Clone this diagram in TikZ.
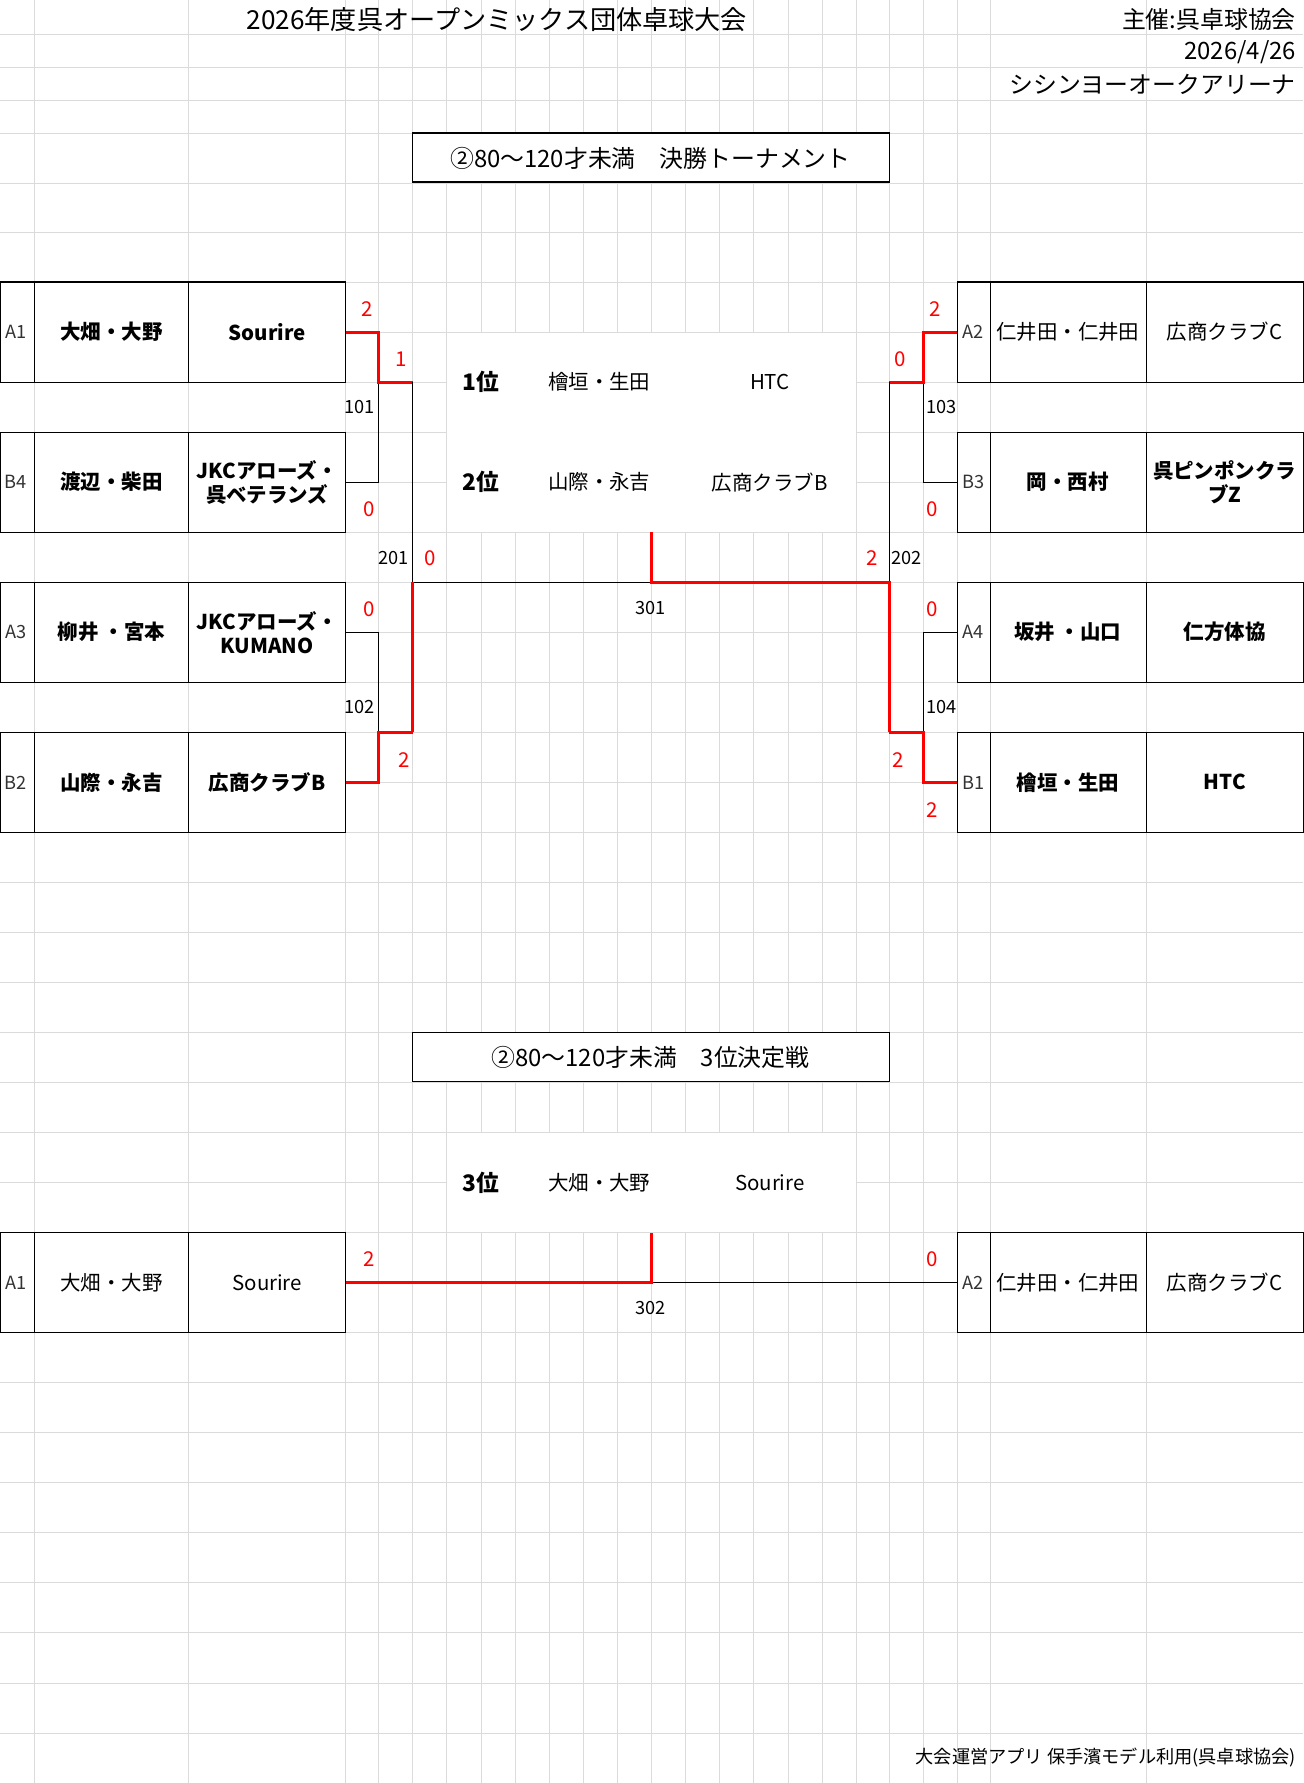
\documentclass[tikz,border=0pt]{standalone}
\usepackage{fontspec}
\setmainfont{Noto Sans CJK JP}
\begin{document}
\begin{tikzpicture}[x=0.5pt,y=-0.5pt,
 grid/.style={draw=black!14,line width=0.4pt},
 box/.style={draw=black,line width=0.5pt},
 nm/.style={font=\fontsize{9}{10.5}\selectfont\bfseries,align=center,inner sep=0pt},
 nn/.style={font=\fontsize{9}{10.5}\selectfont,align=center,inner sep=0pt},
 lb/.style={font=\fontsize{8}{9}\selectfont,text=black!80,inner sep=0pt},
 sc/.style={font=\fontsize{9}{10}\selectfont,text=red,inner sep=0pt},
 mn/.style={font=\fontsize{8}{9}\selectfont,inner sep=0pt},
 win/.style={draw=red,line width=1.3pt},
 los/.style={draw=black,line width=0.5pt}]
\useasboundingbox (0,0) rectangle (1146,1568);
\fill[white] (0,0) rectangle (1146,1568);
% grid
\foreach \x in {30,166,304,333,363,393,423,453,483,513,543,573,603,633,663,693,723,753,782,812,842,871,1008}
  \draw[grid] (\x,0)--(\x,1568);
\foreach \y in {30,59,88,117,161,204,248,292,336,380,424,468,512,556,600,644,688,732,776,820,864,908,952,996,1040,1084,1128,1172,1216,1260,1304,1348,1392,1436,1480,1524}
  \draw[grid] (0,\y)--(1146,\y);
% header
\node[font=\fontsize{11.5}{13}\selectfont,inner sep=0pt] (title) at (437,17) {2026年度呉オープンミックス団体卓球大会};
\node[font=\fontsize{10.5}{12}\selectfont,anchor=east,inner sep=0pt] (org) at (1140,17) {主催:呉卓球協会};
\node[font=\fontsize{10.5}{12}\selectfont,anchor=east,inner sep=0pt] (date) at (1140,46) {2026/4/26};
\node[font=\fontsize{10.5}{12}\selectfont,anchor=east,inner sep=0pt] (venue) at (1140,74) {シシンヨーオークアリーナ};
% title boxes
\draw[box,fill=white] (363,117) rectangle (782,160);
\node[font=\fontsize{10.5}{12}\selectfont,inner sep=0pt] (t1) at (572,139) {②80～120才未満　決勝トーナメント};
\draw[box,fill=white] (363,908) rectangle (782,951);
\node[font=\fontsize{10.5}{12}\selectfont,inner sep=0pt] (t2) at (572,930) {②80～120才未満　3位決定戦};
% result areas
\fill[white] (393.5,292.5) rectangle (752.5,467.5);
\node[font=\fontsize{10}{12}\selectfont\bfseries] (r1) at (423,336) {1位};
\node[nn] (r1a) at (527,336) {檜垣・生田};
\node[nn] (r1b) at (677,336) {HTC};
\node[font=\fontsize{10}{12}\selectfont\bfseries] (r2) at (423,424) {2位};
\node[nn] (r2a) at (527,424) {山際・永吉};
\node[nn] (r2b) at (677,424) {広商クラブB};
\fill[white] (393.5,996.5) rectangle (752.5,1083.5);
\node[font=\fontsize{10}{12}\selectfont\bfseries] (r3) at (423,1040) {3位};
\node[nn] (r3a) at (527,1040) {大畑・大野};
\node[nn] (r3b) at (677,1040) {Sourire};
% team boxes
\newcommand\lteam[5]{%
 \fill[white] (0,#1) rectangle (304,#1+88);
 \draw[box] (0,#1) rectangle (304,#1+88) (30,#1)--(30,#1+88) (166,#1)--(166,#1+88);
 \node[lb] at (14,#1+44) {#2};
 \node[#5] at (98,#1+44) {#3};
 \node[#5] at (235,#1+44) {#4};}
\newcommand\rteam[5]{%
 \fill[white] (842,#1) rectangle (1146,#1+88);
 \draw[box] (842,#1) rectangle (1146,#1+88) (871,#1)--(871,#1+88) (1008,#1)--(1008,#1+88);
 \node[lb] at (856,#1+44) {#2};
 \node[#5] at (939,#1+44) {#3};
 \node[#5] at (1077,#1+44) {#4};}
\lteam{248}{A1}{大畑・大野}{Sourire}{nm}
\lteam{380}{B4}{渡辺・柴田}{JKCアローズ・\\呉ベテランズ}{nm}
\lteam{512}{A3}{柳井 ・宮本}{JKCアローズ・\\KUMANO}{nm}
\lteam{644}{B2}{山際・永吉}{広商クラブB}{nm}
\rteam{248}{A2}{仁井田・仁井田}{広商クラブC}{nn}
\rteam{380}{B3}{岡・西村}{呉ピンポンクラ\\ブZ}{nm}
\rteam{512}{A4}{坂井 ・山口}{仁方体協}{nm}
\rteam{644}{B1}{檜垣・生田}{HTC}{nm}
\lteam{1084}{A1}{大畑・大野}{Sourire}{nn}
\rteam{1084}{A2}{仁井田・仁井田}{広商クラブC}{nn}
% bracket coordinates
\coordinate (m101) at (363,336); \coordinate (m102) at (363,644);
\coordinate (m103) at (782,336); \coordinate (m104) at (782,644);
\coordinate (m301) at (573,468); \coordinate (m302) at (573,1084);
% 101
\draw[los] (304,424)-|(333,336);
\draw[win] (304,292)-|(333,336)--(m101);
% 102
\draw[los] (304,556)-|(333,644);
\draw[win] (304,688)-|(333,644)--(m102);
% 103
\draw[los] (842,424)-|(812,336);
\draw[win] (842,292)-|(812,336)--(m103);
% 104
\draw[los] (842,556)-|(812,644);
\draw[win] (842,688)-|(812,644)--(m104);
% 201, 202, 301
\draw[los] (m101)--(363,512)--(573,512);
\draw[win] (m102)--(363,512);
\draw[los] (m103)--(782,512);
\draw[win] (m104)--(782,512)--(573,512)--(m301);
% 302
\draw[los] (573,1128)--(842,1128);
\draw[win] (304,1128)--(573,1128)--(m302);
% scores
\node[sc] at (323,272) {2}; \node[sc] at (325,448) {0}; \node[sc] at (353,316) {1};
\node[sc] at (325,536) {0}; \node[sc] at (355,668) {2};
\node[sc] at (378,491) {0}; \node[sc] at (767,491) {2};
\node[sc] at (822,272) {2}; \node[sc] at (792,316) {0}; \node[sc] at (820,448) {0};
\node[sc] at (820,536) {0}; \node[sc] at (790,668) {2}; \node[sc] at (820,712) {2};
\node[sc] at (325,1107) {2}; \node[sc] at (820,1107) {0};
% match numbers
\node[mn] at (316,358) {101}; \node[mn] at (316,622) {102};
\node[mn] at (828,358) {103}; \node[mn] at (828,622) {104};
\node[mn] at (346,491) {201}; \node[mn] at (797,491) {202};
\node[mn] at (572,535) {301}; \node[mn] at (572,1150) {302};
% footer
\node[font=\fontsize{8}{9}\selectfont,anchor=east,inner sep=0pt] (foot) at (1140,1546) {大会運営アプリ\ 保手濱モデル利用(呉卓球協会)};
\end{tikzpicture}
\end{document}
